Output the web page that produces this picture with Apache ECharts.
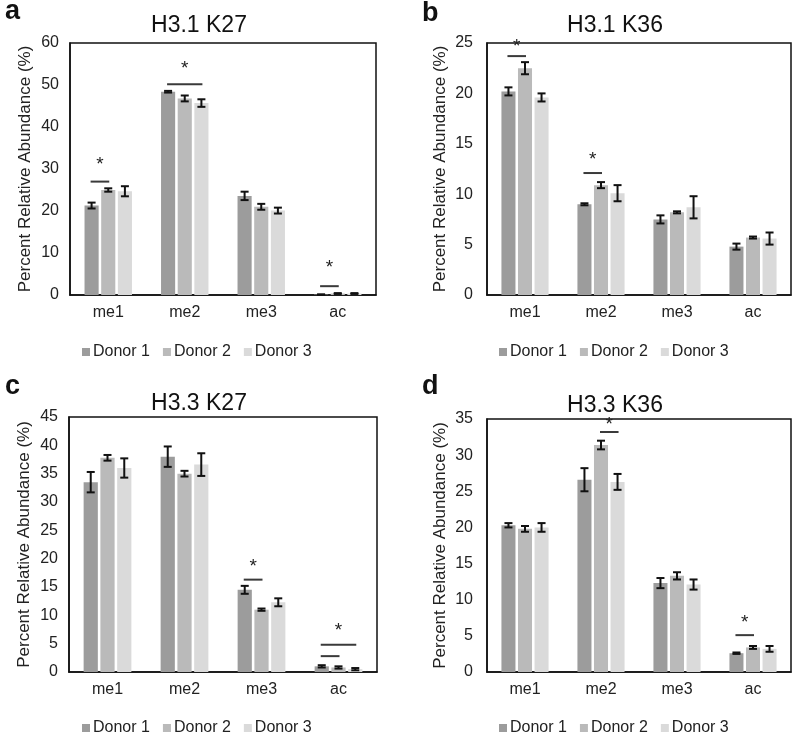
<!DOCTYPE html>
<html><head><meta charset="utf-8">
<script src="https://cdn.jsdelivr.net/npm/echarts@6/dist/echarts.min.js"></script>
<style>html,body{margin:0;background:#fff}#c{width:800px;height:737px}</style>
</head><body><div id="c"></div>
<script>
// ---------- data ----------
const categories = ['me1', 'me2', 'me3', 'ac'];
const donors = ['Donor 1', 'Donor 2', 'Donor 3'];
const panelTitles = ['H3.1 K27', 'H3.1 K36', 'H3.3 K27', 'H3.3 K36'];
const panelLetters = ['a', 'b', 'c', 'd'];
const yMaxes = [60, 25, 45, 35];
const ySteps = [10, 5, 5, 5];

// means: one row per donor, one value per category
const h31k27Mean = [[21.3, 48.4, 23.6, 0.1], [25.0, 46.8, 21.0, 0.35], [24.7, 45.7, 20.1, 0.35]];
const h31k27Err  = [[0.7, 0.2, 1.0, 0.05], [0.4, 0.7, 0.7, 0.1], [1.2, 0.9, 0.7, 0.1]];
const h31k36Mean = [[20.2, 9.0, 7.5, 4.8], [22.5, 10.9, 8.2, 5.7], [19.6, 10.1, 8.7, 5.6]];
const h31k36Err  = [[0.4, 0.1, 0.4, 0.3], [0.6, 0.3, 0.1, 0.1], [0.4, 0.8, 1.1, 0.6]];
const h33k27Mean = [[33.5, 38.0, 14.5, 1.0], [37.8, 35.0, 11.0, 0.8], [36.0, 36.6, 12.3, 0.5]];
const h33k27Err  = [[1.8, 1.8, 0.7, 0.2], [0.5, 0.5, 0.2, 0.2], [1.7, 2.0, 0.7, 0.2]];
const h33k36Mean = [[20.3, 26.6, 12.3, 2.6], [19.8, 31.4, 13.3, 3.4], [20.0, 26.3, 12.1, 3.2]];
const h33k36Err  = [[0.3, 1.6, 0.7, 0.1], [0.4, 0.6, 0.5, 0.2], [0.6, 1.1, 0.7, 0.4]];

// significance: [category, fromDonor, toDonor, lineValue, starValue (null = no star)]
const h31k27Sig = [[0, 0, 1, 27.0, 31.0], [1, 0, 2, 50.2, 53.8], [3, 0, 1, 2.1, 6.6]];
const h31k36Sig = [[0, 0, 1, 23.7, 24.6], [1, 0, 1, 12.1, 13.4]];
const h33k27Sig = [[2, 0, 1, 16.3, 18.6], [3, 0, 1, 2.8, null], [3, 0, 2, 4.8, 7.2]];
const h33k36Sig = [[1, 1, 2, 33.2, 34.2], [3, 0, 1, 5.1, 6.8]];

const panelMeans = [h31k27Mean, h31k36Mean, h33k27Mean, h33k36Mean];
const panelErrs = [h31k27Err, h31k36Err, h33k27Err, h33k36Err];
const panelSigs = [h31k27Sig, h31k36Sig, h33k27Sig, h33k36Sig];

// ---------- styling / layout ----------
const FONT = '"Liberation Sans", Arial, sans-serif';
const donorColors = ['#9c9c9c', '#bababa', '#dadada'];
const CAT_GAP = 0.38, BAR_GAP = 0.18;
const grids = [
  {left: 70, top: 43, width: 306, height: 252},
  {left: 487, top: 43, width: 304, height: 252},
  {left: 69, top: 417, width: 308, height: 255},
  {left: 487, top: 419, width: 304, height: 253}
];
const titlePos = [[194, 9], [610, 9], [194, 387], [610, 389]];
const letterPos = [[5, -2], [422, 0], [5, 373], [422, 373]];
const legendPos = [[77, 339], [494, 339], [77, 715], [494, 715]];
const nameGaps = [36, 38, 36, 38];

function barOffset(bandW, i) {
  const groupW = bandW * (1 - CAT_GAP);
  const b = groupW / (3 + 2 * BAR_GAP);
  return -groupW / 2 + b / 2 + i * b * (1 + BAR_GAP);
}

function errRender(params, api) {
  const cat = api.value(0), d = api.value(1), m = api.value(2), e = api.value(3);
  const bandW = api.size([1, 0])[0];
  const x = api.coord([cat, m])[0] + barOffset(bandW, d);
  const yT = api.coord([cat, m + e])[1];
  const yB = api.coord([cat, Math.max(0, m - e)])[1];
  const cap = 4;
  const st = {stroke: '#111', lineWidth: 2};
  return {type: 'group', children: [
    {type: 'line', shape: {x1: x, y1: yT, x2: x, y2: yB}, style: st},
    {type: 'line', shape: {x1: x - cap, y1: yT, x2: x + cap, y2: yT}, style: st},
    {type: 'line', shape: {x1: x - cap, y1: yB, x2: x + cap, y2: yB}, style: st}
  ]};
}

function sigRender(params, api) {
  const cat = api.value(0), f = api.value(1), t = api.value(2), lv = api.value(3), sv = api.value(4);
  const bandW = api.size([1, 0])[0];
  const c = api.coord([cat, lv]);
  const x1 = c[0] + barOffset(bandW, f) - 1;
  const x2 = c[0] + barOffset(bandW, t) + 1;
  const children = [{type: 'line', shape: {x1: x1, y1: c[1], x2: x2, y2: c[1]},
    style: {stroke: '#3a3a3a', lineWidth: 2}}];
  if (sv != null && !isNaN(sv)) {
    const s = api.coord([cat, sv]);
    children.push({type: 'text', x: (x1 + x2) / 2, y: s[1],
      style: {text: '*', fontSize: 19, fontFamily: FONT, fill: '#222', align: 'center', verticalAlign: 'middle'}});
  }
  return {type: 'group', children: children};
}

const option = {
  animation: false,
  backgroundColor: '#fff',
  title: [], grid: [], xAxis: [], yAxis: [], legend: [], series: [], graphic: []
};

for (let k = 0; k < 4; k++) {
  option.grid.push(Object.assign({show: true, borderColor: '#111', borderWidth: 1.5, backgroundColor: 'transparent'}, grids[k]));
  option.title.push({text: panelTitles[k], left: titlePos[k][0], top: titlePos[k][1], textAlign: 'center',
    textStyle: {fontFamily: FONT, fontSize: 23, fontWeight: 'normal', color: '#111'}});
  option.graphic.push({type: 'text', left: letterPos[k][0], top: letterPos[k][1],
    style: {text: panelLetters[k], fontFamily: FONT, fontSize: 27, fontWeight: 'bold', fill: '#111'}});
  option.xAxis.push({type: 'category', gridIndex: k, data: categories,
    axisLine: {lineStyle: {color: '#111', width: 1.5}}, axisTick: {show: false},
    axisLabel: {fontFamily: FONT, fontSize: 16, color: '#222', margin: 10}});
  option.yAxis.push({type: 'value', gridIndex: k, min: 0, max: yMaxes[k], interval: ySteps[k],
    name: 'Percent Relative Abundance (%)', nameLocation: 'middle', nameGap: nameGaps[k],
    nameTextStyle: {fontFamily: FONT, fontSize: 17, color: '#222'},
    axisLine: {show: true, lineStyle: {color: '#111', width: 1.5}}, axisTick: {show: false},
    splitLine: {show: false},
    axisLabel: {fontFamily: FONT, fontSize: 16, color: '#222', margin: k % 2 ? 14 : 11}});
  option.legend.push({data: donors, left: legendPos[k][0], top: legendPos[k][1], icon: 'rect',
    itemWidth: 8, itemHeight: 8, itemGap: 13, selectedMode: false,
    textStyle: {fontFamily: FONT, fontSize: 16, color: '#222', padding: [0, 0, 0, -2]}});
  const means = panelMeans[k], errs = panelErrs[k];
  const errData = [];
  for (let d = 0; d < 3; d++) {
    option.series.push({type: 'bar', name: donors[d], xAxisIndex: k, yAxisIndex: k, data: means[d],
      barGap: (BAR_GAP * 100) + '%', barCategoryGap: (CAT_GAP * 100) + '%',
      itemStyle: {color: donorColors[d]}, emphasis: {disabled: true}});
    for (let c = 0; c < categories.length; c++) errData.push([c, d, means[d][c], errs[d][c]]);
  }
  option.series.push({type: 'custom', name: 'err' + k, xAxisIndex: k, yAxisIndex: k, z: 5,
    renderItem: errRender, encode: {x: 0, y: 2}, data: errData, silent: true});
  option.series.push({type: 'custom', name: 'sig' + k, xAxisIndex: k, yAxisIndex: k, z: 6,
    renderItem: sigRender, encode: {x: 0, y: 3}, data: panelSigs[k].map(r => r.map(v => v == null ? NaN : v)), silent: true});
}

const chart = echarts.init(document.getElementById('c'), null, {renderer: 'canvas'});
chart.setOption(option);
</script>
</body></html>
